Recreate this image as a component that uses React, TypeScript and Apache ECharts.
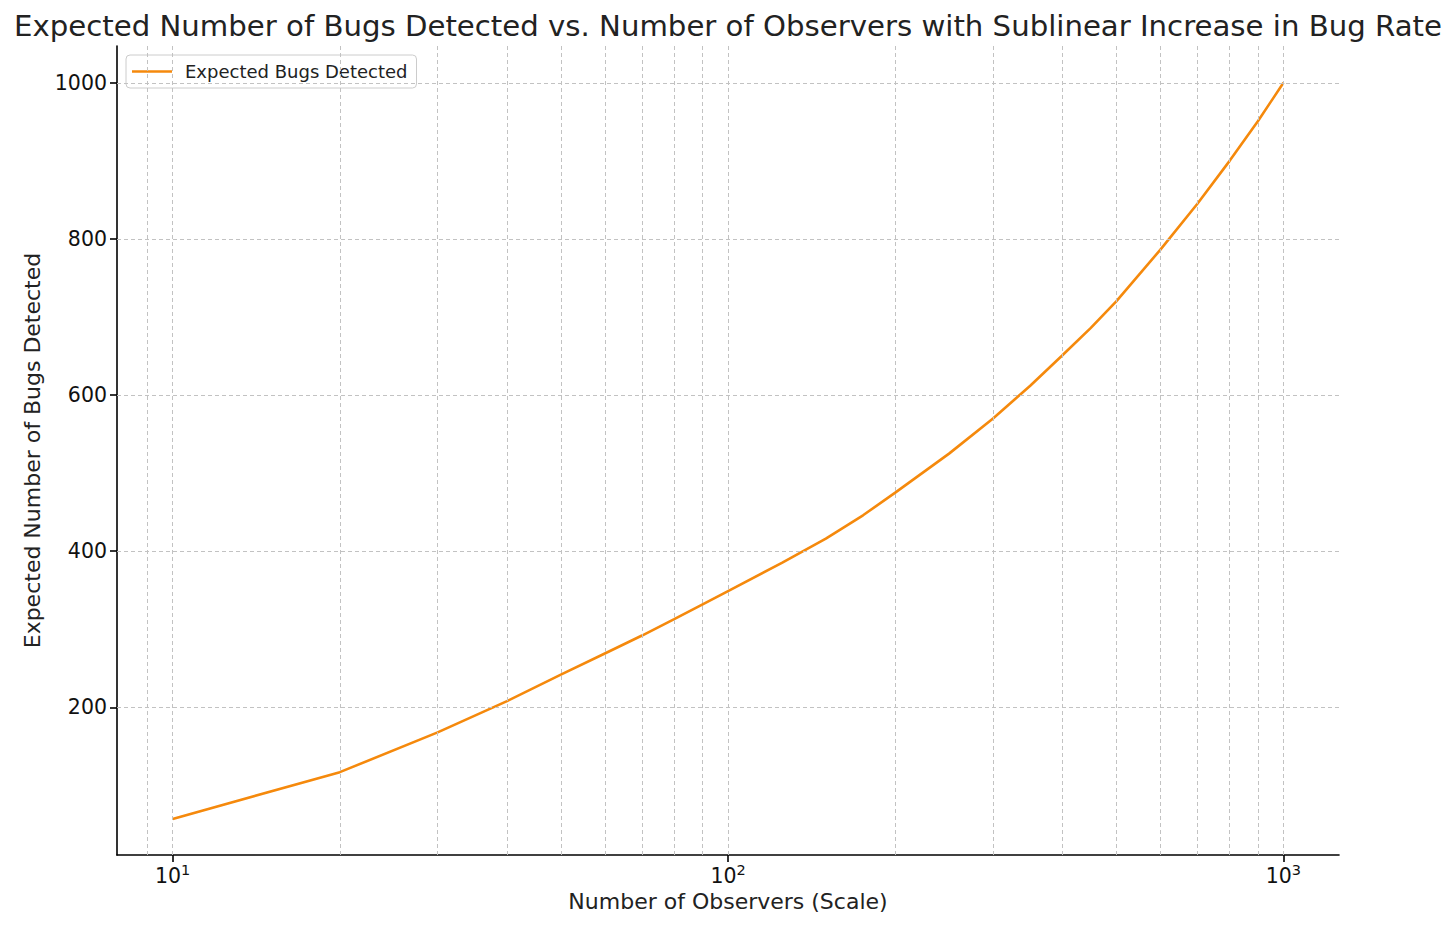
import React, { useEffect, useRef } from "react";
import * as echarts from "echarts";

const TITLE =
  "Expected Number of Bugs Detected vs. Number of Observers with Sublinear Increase in Bug Rate";
const SERIES_NAME = "Expected Bugs Detected";
const X_NAME = "Number of Observers (Scale)";
const Y_NAME = "Expected Number of Bugs Detected";

const observers = [10, 20, 30, 40, 50, 60, 70, 80, 90, 100, 125, 150, 175, 200, 250, 300, 350, 400, 450, 500, 600, 700, 800, 900, 1000];
const bugs = [57, 117, 168, 208, 242, 269, 292, 313, 332, 349, 385, 416, 446, 475, 525, 570, 612, 651, 686, 720, 786, 845, 900, 951, 1000];

const xMajorTicks = [10, 100, 1000];
const xGridValues = [9, 10, 20, 30, 40, 50, 60, 70, 80, 90, 100, 200, 300, 400, 500, 600, 700, 800, 900, 1000];
const yTicks = [200, 400, 600, 800, 1000];

const X_MIN = 7.94;
const X_MAX = 1259;
const Y_MIN = 10.9;
const Y_MAX = 1047.1;

const FONT = "DejaVu Sans";
const LINE_COLOR = "#f5890c";

export default function App() {
  const ref = useRef<HTMLDivElement>(null);
  useEffect(() => {
    if (!ref.current) return;
    const chart = echarts.init(ref.current, undefined, { renderer: "svg" });
    const gridStyle = { type: [4, 3], color: "#c2c2c2", width: 1 };
    chart.setOption({
      animation: false,
      textStyle: { fontFamily: FONT },
      title: {
        text: TITLE,
        left: "center",
        top: 6,
        textStyle: { fontFamily: FONT, fontSize: 29.2, fontWeight: "normal", color: "#222" },
      },
      legend: {
        data: [{ name: SERIES_NAME, icon: "rect" }],
        left: 126,
        top: 55,
        orient: "vertical",
        padding: [6, 9, 6, 6],
        itemWidth: 40,
        itemHeight: 2.5,
        backgroundColor: "rgba(255,255,255,0.8)",
        borderColor: "#cccccc",
        borderWidth: 1,
        borderRadius: 4,
        textStyle: { fontFamily: FONT, fontSize: 18, lineHeight: 21, color: "#222", padding: [0, 0, 0, 8] },
      },
      grid: { left: 117, right: 117, top: 46, bottom: 72, containLabel: false },
      xAxis: {
        type: "log",
        logBase: 10,
        min: X_MIN,
        max: X_MAX,
        name: X_NAME,
        nameLocation: "middle",
        nameGap: 28,
        nameTextStyle: { fontFamily: FONT, fontSize: 22, color: "#222" },
        axisLine: { show: true, onZero: false, lineStyle: { color: "#000", width: 1.6 } },
        axisTick: { show: true, length: 7, customValues: xMajorTicks, lineStyle: { color: "#000", width: 1.6 } },
        axisLabel: {
          customValues: xMajorTicks,
          margin: 7,
          formatter: (v: number) => `{b|10}{s|${Math.round(Math.log10(v))}}`,
          rich: {
            b: { fontFamily: FONT, fontSize: 20.5, color: "#111", verticalAlign: "bottom", lineHeight: 24 },
            s: { fontFamily: FONT, fontSize: 14.5, color: "#111", verticalAlign: "top", lineHeight: 14 },
          },
        },
        splitLine: { show: false },
        minorTick: { show: false },
      },
      yAxis: {
        type: "value",
        min: Y_MIN,
        max: Y_MAX,
        name: Y_NAME,
        nameLocation: "middle",
        nameGap: 63,
        nameTextStyle: { fontFamily: FONT, fontSize: 22, color: "#222" },
        axisLine: { show: true, onZero: false, lineStyle: { color: "#000", width: 1.6 } },
        axisTick: { show: true, length: 7, customValues: yTicks, lineStyle: { color: "#000", width: 1.6 } },
        axisLabel: {
          customValues: yTicks,
          margin: 10,
          fontFamily: FONT,
          fontSize: 20.5,
          color: "#111",
          formatter: (v: number) => String(Math.round(v)),
        },
        splitLine: { show: false },
      },
      series: [
        {
          type: "line",
          data: [],
          z: 1,
          silent: true,
          markLine: {
            silent: true,
            symbol: "none",
            label: { show: false },
            lineStyle: gridStyle,
            data: [
              ...xGridValues.map((v) => ({ xAxis: v })),
              ...yTicks.map((v) => ({ yAxis: v })),
            ],
          },
        },
        {
          name: SERIES_NAME,
          type: "line",
          z: 3,
          data: observers.map((o, i) => [o, bugs[i]]),
          showSymbol: false,
          symbol: "none",
          lineStyle: { color: LINE_COLOR, width: 2.6 },
          itemStyle: { color: LINE_COLOR },
        },
      ],
    });
    return () => chart.dispose();
  }, []);
  return (
    <div
      ref={ref}
      style={{ position: "fixed", left: 0, top: 0, width: 1456, height: 927, background: "#fff" }}
    />
  );
}
